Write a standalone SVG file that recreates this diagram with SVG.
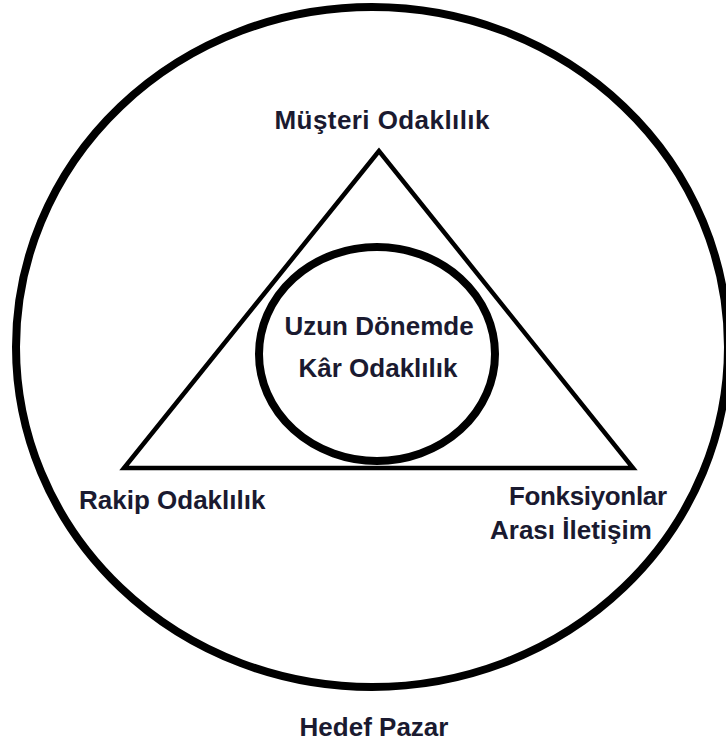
<svg xmlns="http://www.w3.org/2000/svg" width="726" height="747" viewBox="0 0 726 747">
<style>
.t{font-family:"Liberation Sans",Arial,sans-serif;font-weight:bold;font-size:26px;fill:#1a1a30}
.s{fill:none;stroke:#000}
</style>
<rect width="726" height="747" fill="#fff"/>
<g id="connectors">
<polygon class="s" stroke-width="4.5" points="379,151 124,468 633,468"/>
</g>
<g id="hedef-pazar">
<ellipse class="s" stroke-width="8" cx="372" cy="347" rx="356" ry="340"/>
<text class="t" x="374" y="736" text-anchor="middle">Hedef Pazar</text>
</g>
<g id="kar-odaklilik">
<ellipse class="s" stroke-width="8" cx="377" cy="354" rx="118" ry="107"/>
<text class="t" x="379" y="335" text-anchor="middle">Uzun Dönemde</text>
<text class="t" x="378" y="377" text-anchor="middle">Kâr Odaklılık</text>
</g>
<g id="musteri">
<text class="t" x="382" y="129" text-anchor="middle" textLength="215">Müşteri Odaklılık</text>
</g>
<g id="rakip">
<text class="t" x="79" y="509">Rakip Odaklılık</text>
</g>
<g id="fonksiyonlar">
<text class="t" x="509" y="505" textLength="158">Fonksiyonlar</text>
<text class="t" x="490" y="539">Arası İletişim</text>
</g>
</svg>
